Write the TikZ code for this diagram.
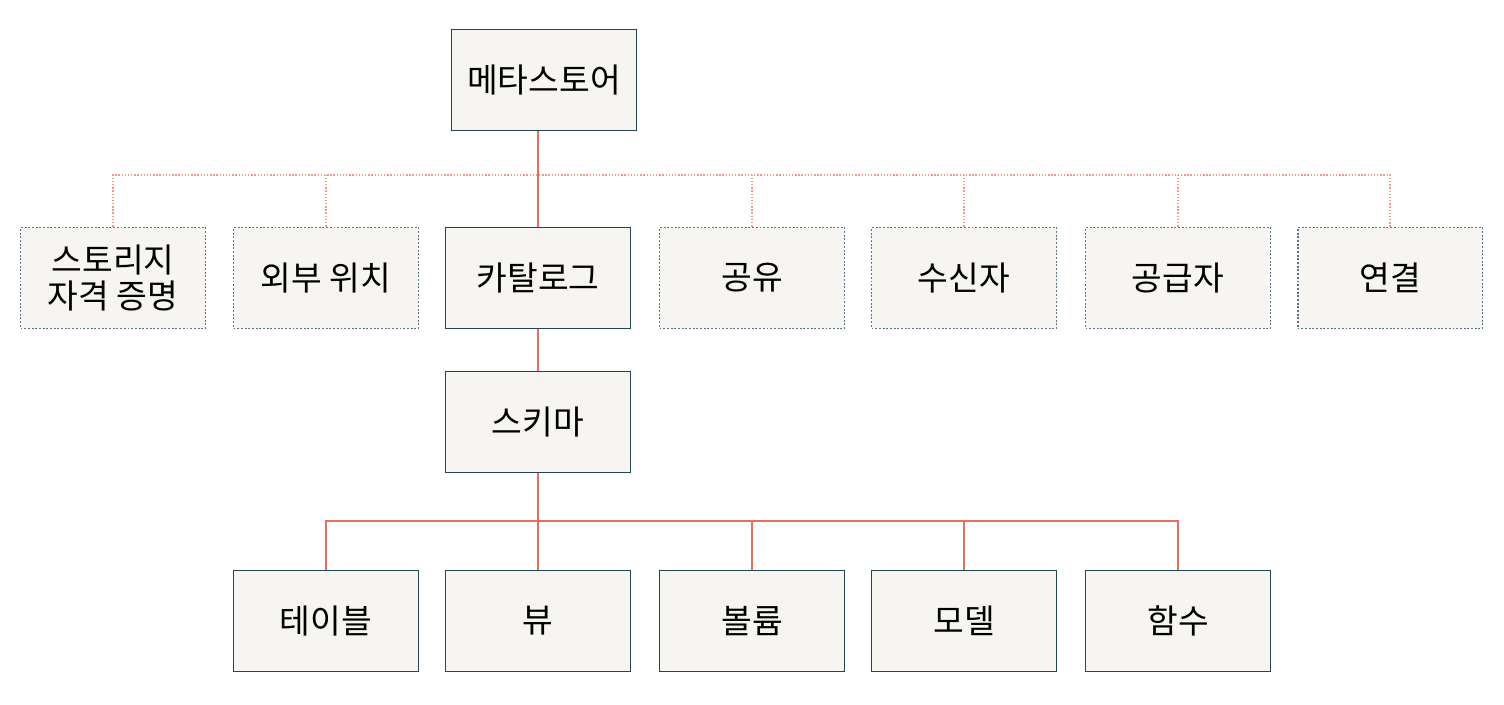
\documentclass[tikz,border=0pt]{standalone}
\usepackage{fontspec}
\newfontfamily\cjk{Noto Sans CJK KR}
\usetikzlibrary{positioning, calc}
\definecolor{boxfill}{RGB}{247,245,241}
\definecolor{boxline}{RGB}{38,70,83}
\definecolor{linkcolor}{RGB}{231,111,95}

\begin{document}
\begin{tikzpicture}[
    x=0.02cm, y=-0.02cm,
    box/.style={draw=boxline, line width=1.1pt, fill=boxfill, minimum width=3.7cm, minimum height=2.02cm, align=center, font=\cjk\fontsize{19}{23}\selectfont},
    optbox/.style={box, draw=boxline!75, densely dotted},
    link/.style={linkcolor, thick},
    optlink/.style={linkcolor!70, thick, densely dotted}
]
    \useasboundingbox (0,0) rectangle (1504,704);
    % Top and middle
    \node[box] (meta) at (544,80) {메타스토어};
    \node[box] (catalog) at (538,278) {카탈로그};
    \node[box] (schema) at (538,422) {스키마};
    % Optional objects
    \node[optbox] (cred) at (113,278) {스토리지\\[-3pt]자격 증명};
    \node[optbox] (extloc) at (326,278) {외부 위치};
    \node[optbox] (share) at (752,278) {공유};
    \node[optbox] (recip) at (964,278) {수신자};
    \node[optbox] (prov) at (1178,278) {공급자};
    \node[optbox] (conn) at (1390,278) {연결};
    % Schema objects
    \node[box] (table) at (326,621) {테이블};
    \node[box] (view) at (538,621) {뷰};
    \node[box] (volume) at (752,621) {볼륨};
    \node[box] (model) at (964,621) {모델};
    \node[box] (func) at (1178,621) {함수};
    % Links
    \coordinate (mbus) at (538,175);
    \draw[link] (catalog.north) -- (catalog.north |- meta.south);
    \draw[optlink] (cred.north) |- (mbus) -| (conn.north);
    \foreach \n in {extloc, share, recip, prov}
        \draw[optlink] (\n.north) -- (\n.north |- mbus);
    \draw[link] (catalog) -- (schema);
    \coordinate (sbus) at (538,521);
    \draw[link] (schema) -- (view);
    \draw[link] (table.north) |- (sbus) -| (func.north);
    \foreach \n in {volume, model}
        \draw[link] (\n.north) -- (\n.north |- sbus);
\end{tikzpicture}
\end{document}
